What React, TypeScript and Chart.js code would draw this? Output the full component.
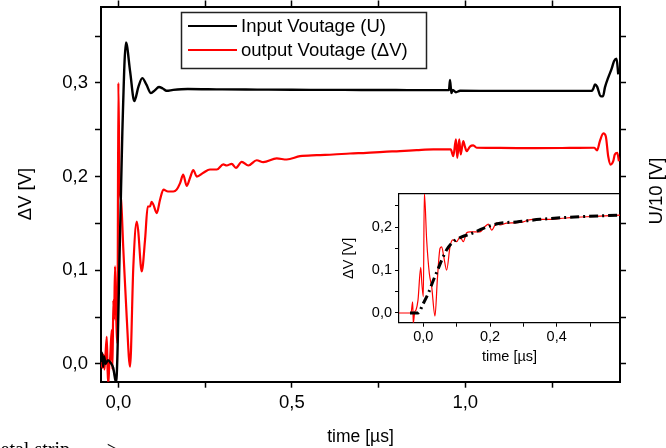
import React, { useEffect, useRef } from 'react';
import { Chart, registerables } from 'chart.js';

Chart.register(...registerables);

// ---------- main plot data ----------
const inputT = [-0.05, -0.047, -0.044, -0.041, -0.037, -0.03, -0.022, -0.015, -0.0066, 0.005, 0.0115, 0.022, 0.034, 0.046, 0.058, 0.069, 0.081, 0.094, 0.105, 0.117, 0.128, 0.139, 0.158, 0.2, 0.3, 0.4, 0.5, 0.6, 0.7, 0.8, 0.9, 0.953, 0.956, 0.96, 0.964, 0.973, 0.985, 1.1, 1.2, 1.3, 1.365, 1.369, 1.374, 1.38, 1.39, 1.397, 1.4026, 1.412, 1.422, 1.429, 1.436, 1.441];
const inputV = [0.002, 0.012, -0.003, 0.008, 0.0, 0.004, 0.001, -0.004, -0.02, 0.14, 0.247, 0.343, 0.312, 0.2805, 0.296, 0.305, 0.298, 0.289, 0.292, 0.2955, 0.294, 0.2915, 0.2925, 0.2935, 0.293, 0.2928, 0.2926, 0.2925, 0.2924, 0.2923, 0.2922, 0.2922, 0.303, 0.289, 0.2925, 0.29, 0.2915, 0.2914, 0.2914, 0.2914, 0.2914, 0.2938, 0.2984, 0.296, 0.2859, 0.2856, 0.2952, 0.3056, 0.3152, 0.3233, 0.3259, 0.309];

const outputT = [-0.05, -0.046, -0.043, -0.04, -0.0334, -0.031, -0.029, -0.026, -0.024, -0.019, -0.017, -0.0144, -0.0124, -0.0095, -0.007, -0.0025, 0.0, 0.0035, 0.0078, 0.0144, 0.024, 0.0337, 0.0432, 0.053, 0.057, 0.0674, 0.077, 0.0847, 0.091, 0.096, 0.101, 0.1107, 0.12, 0.13, 0.143, 0.1585, 0.168, 0.178, 0.187, 0.197, 0.207, 0.216, 0.226, 0.245, 0.264, 0.2836, 0.3026, 0.3124, 0.3268, 0.339, 0.3556, 0.3746, 0.3988, 0.4179, 0.4565, 0.4853, 0.5236, 0.5718, 0.6196, 0.6677, 0.7158, 0.7637, 0.8118, 0.86, 0.9078, 0.958, 0.9654, 0.9732, 0.9769, 0.9827, 0.9867, 0.9942, 0.999, 1.004, 1.0135, 1.023, 1.0329, 1.1, 1.2, 1.3, 1.372, 1.38, 1.388, 1.398, 1.405, 1.412, 1.419, 1.4265, 1.431, 1.438, 1.443];
const outputV = [0.004, -0.004, 0.01, -0.006, 0.029, -0.006, -0.022, 0.0, 0.004, 0.036, -0.006, 0.068, 0.047, 0.104, 0.06, 0.022, 0.3, 0.19, 0.175, 0.122, 0.0506, -0.003, 0.104, 0.152, 0.143, 0.0987, 0.1326, 0.168, 0.168, 0.173, 0.17, 0.161, 0.175, 0.186, 0.184, 0.184, 0.186, 0.193, 0.202, 0.19, 0.199, 0.207, 0.2, 0.204, 0.2075, 0.2075, 0.213, 0.2118, 0.2136, 0.2093, 0.2157, 0.2118, 0.2174, 0.2153, 0.2193, 0.2182, 0.2217, 0.2228, 0.2235, 0.2246, 0.2253, 0.2264, 0.2271, 0.2281, 0.2289, 0.2289, 0.2217, 0.2396, 0.22, 0.2396, 0.2235, 0.2378, 0.232, 0.227, 0.232, 0.2332, 0.2307, 0.2305, 0.2303, 0.2305, 0.2307, 0.228, 0.2378, 0.246, 0.243, 0.2217, 0.2128, 0.2164, 0.2235, 0.2253, 0.2164];

const mainXTicks = [0, 0.25, 0.5, 0.75, 1.0, 1.25];
const mainXLabels = ['0,0', '', '0,5', '', '1,0', ''];
const mainYTicks = [0, 0.05, 0.1, 0.15, 0.2, 0.25, 0.3, 0.35];
const mainYLabels = ['0,0', '', '0,1', '', '0,2', '', '0,3', ''];

// ---------- inset data ----------
const insetRedT = [-0.073, -0.055, -0.037, -0.032, -0.03, -0.026, -0.022, -0.016, -0.0078, -0.004, 0.0, 0.003, 0.01, 0.018, 0.025, 0.035, 0.042, 0.05, 0.055, 0.062, 0.07, 0.08, 0.088, 0.1, 0.11, 0.12, 0.13, 0.14, 0.17, 0.185, 0.195, 0.205, 0.22, 0.23, 0.25, 0.275, 0.3, 0.314, 0.33, 0.37, 0.41, 0.45, 0.49, 0.53, 0.59];
const insetRedV = [0.0, 0.0, 0.0, 0.026, -0.023, 0.002, 0.007, 0.03, 0.106, 0.065, 0.038, 0.28, 0.17, 0.092, 0.061, -0.007, 0.077, 0.15, 0.154, 0.128, 0.1, 0.154, 0.17, 0.166, 0.177, 0.166, 0.187, 0.189, 0.189, 0.201, 0.207, 0.193, 0.21, 0.205, 0.209, 0.21, 0.212, 0.216, 0.218, 0.218, 0.22, 0.2226, 0.224, 0.2256, 0.228];
const insetFitT = [-0.04, -0.016, 0.0, 0.015, 0.029, 0.045, 0.055, 0.07, 0.09, 0.115, 0.145, 0.18, 0.23, 0.28, 0.35, 0.43, 0.59];
const insetFitV = [0.0, 0.0, 0.0226, 0.046, 0.074, 0.104, 0.123, 0.147, 0.166, 0.177, 0.185, 0.197, 0.209, 0.212, 0.218, 0.2226, 0.228];

const insetXTicks = [0, 0.1, 0.2, 0.3, 0.4, 0.5];
const insetXLabels = ['0,0', '', '0,2', '', '0,4', ''];
const insetYTicks = [0, 0.05, 0.1, 0.15, 0.2, 0.25];
const insetYLabels = ['0,0', '', '0,1', '', '0,2', ''];

const FONT = '"Liberation Sans", Arial, Helvetica, sans-serif';
const SERIF = '"Liberation Serif", "Times New Roman", serif';

const zip = (t: number[], v: number[]) => t.map((x, i) => ({ x, y: v[i] }));

const fixedSize = (size: number) => (s: any) => {
  if (s.isHorizontal()) s.height = size;
  else s.width = size;
  s.paddingTop = 0;
  s.paddingBottom = 0;
  s.paddingLeft = 0;
  s.paddingRight = 0;
};

const setTicks = (vals: number[]) => (s: any) => {
  s.ticks = vals.map((value) => ({ value }));
};

const axisGrid = (len: number, w: number) => ({
  drawOnChartArea: false,
  drawTicks: true,
  tickLength: len,
  tickWidth: w,
  tickColor: '#000',
});

const legendPlugin = {
  id: 'boxLegend',
  afterDraw(chart: any) {
    const ctx = chart.ctx;
    ctx.save();
    const x0 = 181.5, y0 = 12.5, w = 245, h = 56;
    ctx.lineWidth = 1.5;
    ctx.strokeStyle = '#222';
    ctx.strokeRect(x0, y0, w, h);
    ctx.font = `18.5px ${FONT}`;
    ctx.textBaseline = 'middle';
    ctx.textAlign = 'left';
    chart.data.datasets.forEach((ds: any, i: number) => {
      const y = 26 + i * 24;
      ctx.strokeStyle = ds.borderColor;
      ctx.lineWidth = 2;
      ctx.beginPath();
      ctx.moveTo(188, y);
      ctx.lineTo(237, y);
      ctx.stroke();
      ctx.fillStyle = '#000';
      ctx.fillText(ds.label, 241, y + 1);
    });
    ctx.restore();
  },
};

const extraTextPlugin = {
  id: 'extraText',
  afterDraw(chart: any) {
    const ctx = chart.ctx;
    ctx.save();
    ctx.fillStyle = '#000';
    ctx.font = `18.5px ${FONT}`;
    ctx.translate(657, 191);
    ctx.rotate(-Math.PI / 2);
    ctx.textAlign = 'center';
    ctx.textBaseline = 'middle';
    ctx.fillText('U/10 [V]', 0, 0);
    ctx.restore();
    ctx.save();
    ctx.fillStyle = '#000';
    ctx.font = `20px ${SERIF}`;
    ctx.textAlign = 'left';
    ctx.textBaseline = 'alphabetic';
    ctx.fillText('metal strip', -15, 456);
    ctx.fillText('->', 100, 456);
    ctx.restore();
  },
};

export default function App() {
  const mainRef = useRef<HTMLCanvasElement>(null);
  const insetRef = useRef<HTMLCanvasElement>(null);

  useEffect(() => {
    const tickFont = { family: FONT, size: 18.5 };
    const main = new Chart(mainRef.current as HTMLCanvasElement, {
      type: 'line',
      data: {
        datasets: [
          {
            label: 'Input Voutage (U)',
            data: zip(inputT, inputV),
            borderColor: '#000000',
            borderWidth: 2.4,
            pointRadius: 0,
            cubicInterpolationMode: 'monotone',
            xAxisID: 'x',
            yAxisID: 'y',
          },
          {
            label: 'output Voutage (\u0394V)',
            data: zip(outputT, outputV),
            borderColor: '#ff0000',
            borderWidth: 2.2,
            pointRadius: 0,
            cubicInterpolationMode: 'monotone',
            xAxisID: 'x',
            yAxisID: 'y',
          },
        ],
      },
      options: {
        animation: false,
        responsive: false,
        maintainAspectRatio: false,
        events: [],
        layout: { padding: 0 },
        plugins: { legend: { display: false }, tooltip: { enabled: false } },
        scales: {
          x: {
            type: 'linear',
            position: 'bottom',
            min: -0.05,
            max: 1.446,
            afterBuildTicks: setTicks(mainXTicks),
            afterFit: fixedSize(66.3),
            ticks: {
              callback: (_v: any, i: number) => mainXLabels[i],
              color: '#000',
              font: tickFont,
              padding: 4,
              maxRotation: 0,
              autoSkip: false,
            },
            grid: axisGrid(6, 1.5),
            border: { color: '#000', width: 2 },
            title: {
              display: true,
              text: 'time [\u00b5s]',
              color: '#000',
              font: { family: FONT, size: 17.5 },
              padding: { top: 0, bottom: 0 },
            },
          },
          x2: {
            type: 'linear',
            position: 'top',
            min: -0.05,
            max: 1.446,
            afterBuildTicks: setTicks(mainXTicks),
            afterFit: fixedSize(6.5),
            ticks: { callback: () => '', autoSkip: false, maxRotation: 0, font: tickFont },
            grid: axisGrid(6, 1.5),
            border: { color: '#000', width: 2 },
          },
          y: {
            type: 'linear',
            position: 'left',
            min: -0.019,
            max: 0.3815,
            afterBuildTicks: setTicks(mainYTicks),
            afterFit: fixedSize(101),
            ticks: {
              callback: (_v: any, i: number) => mainYLabels[i],
              color: '#000',
              font: tickFont,
              padding: 7,
              autoSkip: false,
            },
            grid: axisGrid(6, 1.5),
            border: { color: '#000', width: 2 },
            title: {
              display: true,
              text: '\u0394V [V]',
              color: '#000',
              font: { family: FONT, size: 18.5 },
              padding: { top: 14.5, bottom: 0 },
            },
          },
          y2: {
            type: 'linear',
            position: 'right',
            min: -0.019,
            max: 0.3815,
            afterBuildTicks: setTicks(mainYTicks),
            afterFit: fixedSize(46),
            ticks: { callback: () => '', autoSkip: false, font: tickFont },
            grid: axisGrid(6, 1.5),
            border: { color: '#000', width: 2 },
          },
        },
      },
      plugins: [legendPlugin, extraTextPlugin],
    } as any);

    const insetTick = { family: FONT, size: 14.5 };
    const inset = new Chart(insetRef.current as HTMLCanvasElement, {
      type: 'line',
      data: {
        datasets: [
          {
            label: 'fit',
            data: zip(insetFitT, insetFitV),
            borderColor: '#000000',
            borderWidth: 3,
            borderDash: [9, 4, 2, 4],
            pointRadius: 0,
            cubicInterpolationMode: 'monotone',
          },
          {
            label: 'output',
            data: zip(insetRedT, insetRedV),
            borderColor: '#ff0000',
            borderWidth: 1.2,
            pointRadius: 0,
            cubicInterpolationMode: 'monotone',
          },
        ],
      },
      options: {
        animation: false,
        responsive: false,
        maintainAspectRatio: false,
        events: [],
        layout: { padding: { top: 0, right: 0, left: 0, bottom: 0 } },
        plugins: { legend: { display: false }, tooltip: { enabled: false } },
        scales: {
          x: {
            type: 'linear',
            position: 'bottom',
            min: -0.073,
            max: 0.59,
            afterBuildTicks: setTicks(insetXTicks),
            afterFit: fixedSize(47.3),
            ticks: {
              callback: (_v: any, i: number) => insetXLabels[i],
              color: '#000',
              font: insetTick,
              padding: 2,
              maxRotation: 0,
              autoSkip: false,
            },
            grid: axisGrid(4, 1),
            border: { color: '#000', width: 1.2 },
            title: {
              display: true,
              text: 'time [\u00b5s]',
              color: '#000',
              font: { family: FONT, size: 14.5 },
              padding: { top: 0, bottom: 4 },
            },
          },
          x2: {
            type: 'linear',
            position: 'top',
            min: -0.073,
            max: 0.59,
            afterBuildTicks: setTicks(insetXTicks),
            afterFit: fixedSize(14),
            ticks: { callback: () => '', autoSkip: false, font: insetTick },
            grid: axisGrid(0, 1),
            border: { color: '#000', width: 1.2 },
          },
          y: {
            type: 'linear',
            position: 'left',
            min: -0.0226,
            max: 0.277,
            afterBuildTicks: setTicks(insetYTicks),
            afterFit: fixedSize(69),
            ticks: {
              callback: (_v: any, i: number) => insetYLabels[i],
              color: '#000',
              font: insetTick,
              padding: 3,
              autoSkip: false,
            },
            grid: axisGrid(4, 1),
            border: { color: '#000', width: 1.2 },
            title: {
              display: true,
              text: '\u0394V [V]',
              color: '#000',
              font: { family: FONT, size: 14.5 },
              padding: { top: 10, bottom: 0 },
            },
          },
          y2: {
            type: 'linear',
            position: 'right',
            min: -0.0226,
            max: 0.277,
            afterBuildTicks: setTicks(insetYTicks),
            afterFit: fixedSize(2),
            ticks: { callback: () => '', autoSkip: false, font: insetTick },
            grid: axisGrid(0, 1),
            border: { color: '#000', width: 1.2 },
          },
        },
      },
    } as any);

    return () => {
      main.destroy();
      inset.destroy();
    };
  }, []);

  return (
    <div style={{ position: 'fixed', left: 0, top: 0, width: 666, height: 448, background: '#fff', overflow: 'hidden' }}>
      <canvas ref={mainRef} width={666} height={448} style={{ position: 'absolute', left: 0, top: 0, width: 666, height: 448 }} />
      <canvas ref={insetRef} width={292} height={190} style={{ position: 'absolute', left: 330, top: 180, width: 292, height: 190 }} />
    </div>
  );
}
